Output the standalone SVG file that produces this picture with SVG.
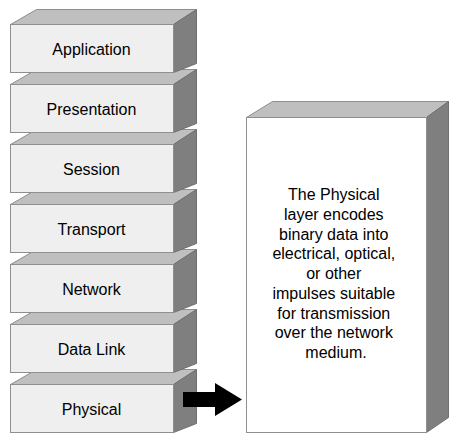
<svg xmlns="http://www.w3.org/2000/svg" width="460" height="440" viewBox="0 0 460 440">
<defs>
<style>
.front{fill:#efefef;stroke:#8f8f8f;stroke-width:1}
.top{fill:#bfbfbf;stroke:#8f8f8f;stroke-width:1}
.side{fill:#7f7f7f;stroke:#6f6f6f;stroke-width:1}
.bigfront{fill:#ffffff;stroke:#8f8f8f;stroke-width:1}
.lbl{font-family:"Liberation Sans",Arial,sans-serif;font-size:16px;fill:#000;text-anchor:middle}
</style>
<g id="layer-block">
<polygon class="top" points="10.5,24.5 36.5,9.5 196.5,9.5 173.5,24.5"/>
<polygon class="side" points="173.5,24.5 196.5,9.5 196.5,63.5 173.5,72.5"/>
<rect class="front" x="10.5" y="24.5" width="163" height="48"/>
</g>
</defs>
<rect width="460" height="440" fill="#ffffff"/>
<g id="physical"><use href="#layer-block" transform="translate(0,360)"/><text class="lbl" x="91.5" y="415">Physical</text></g>
<g id="datalink"><use href="#layer-block" transform="translate(0,300)"/><text class="lbl" x="91.5" y="355">Data Link</text></g>
<g id="network"><use href="#layer-block" transform="translate(0,240)"/><text class="lbl" x="91.5" y="295">Network</text></g>
<g id="transport"><use href="#layer-block" transform="translate(0,180)"/><text class="lbl" x="91.5" y="235">Transport</text></g>
<g id="session"><use href="#layer-block" transform="translate(0,120)"/><text class="lbl" x="91.5" y="175">Session</text></g>
<g id="presentation"><use href="#layer-block" transform="translate(0,60)"/><text class="lbl" x="91.5" y="115">Presentation</text></g>
<g id="application"><use href="#layer-block"/><text class="lbl" x="91.5" y="55">Application</text></g>
<g id="description">
<polygon class="top" points="246.5,117.5 272.5,101.5 448.5,101.5 426.5,117.5"/>
<polygon class="side" points="426.5,117.5 448.5,101.5 448.5,417.5 426.5,432.5"/>
<rect class="bigfront" x="246.5" y="117.5" width="180" height="315"/>
<text class="lbl">
<tspan x="336" y="200">The Physical</tspan>
<tspan x="336" y="219.75">layer encodes</tspan>
<tspan x="336" y="239.5">binary data into</tspan>
<tspan x="336" y="259.25">electrical, optical,</tspan>
<tspan x="336" y="279">or other</tspan>
<tspan x="336" y="298.75">impulses suitable</tspan>
<tspan x="336" y="318.5">for transmission</tspan>
<tspan x="336" y="338.25">over the network</tspan>
<tspan x="336" y="358">medium.</tspan>
</text>
</g>
<g id="connectors">
<polygon points="183,392 215,392 215,383 242,399.5 215,416 215,407 183,407" fill="#000000"/>
</g>
</svg>
